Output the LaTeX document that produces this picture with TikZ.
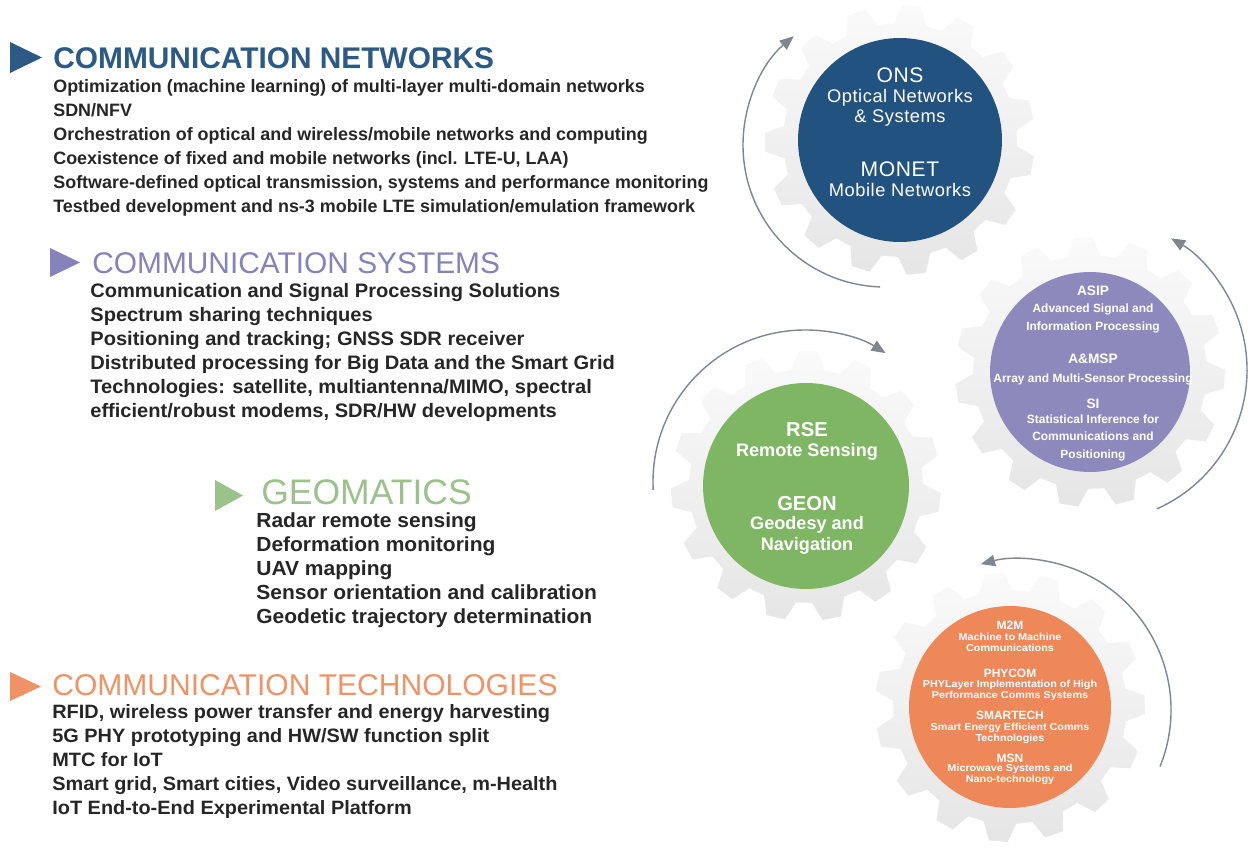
\documentclass[tikz,border=0pt]{standalone}
\usepackage{fontspec}
\setmainfont{Liberation Sans}
\newfontfamily\bodyfont{Liberation Sans}
\newfontfamily\broadfont[FakeStretch=1.03]{Liberation Sans}
\newfontfamily\widefont[FakeStretch=1.08]{Liberation Sans}
\newfontfamily\spacedfont[LetterSpace=3]{Liberation Sans}
\usetikzlibrary{arrows.meta}

\definecolor{netblue}{HTML}{2C5A85}
\definecolor{sysviolet}{HTML}{8682BA}
\definecolor{geogreen}{HTML}{9CC28B}
\definecolor{techorange}{HTML}{EF9367}
\definecolor{discblue}{HTML}{22527F}
\definecolor{discviolet}{HTML}{8D89BC}
\definecolor{discgreen}{HTML}{7EB663}
\definecolor{discorange}{HTML}{EE8858}
\definecolor{inkgray}{HTML}{262626}
\definecolor{arrowgray}{HTML}{7F868E}

\tikzset{
  heading/.style={anchor=base west, inner sep=0pt},
  % multi-line nodes are anchored on the baseline of their last line
  itemlist/.style={anchor=base west, inner sep=0pt, align=left, text=inkgray},
  disc/.style={circle, inner sep=0pt},
  disctitle/.style={anchor=base, inner sep=0pt, text=white},
  discsub/.style={anchor=base, inner sep=0pt, align=center, text=white},
  gearbody/.style={top color=black!2, bottom color=black!10},
  turn/.style={draw=arrowgray, line width=0.8pt, -{Triangle[length=8pt,width=6.5pt]}}
}

% cogwheel: centre x, centre y, rotation
\newcommand{\cogwheel}[3]{%
  \begin{scope}[shift={(#1,#2)}, rotate=#3]
    \shade[gearbody] (-5:117) foreach \k in {0,...,14}{
      -- (\k*24+3:117) -- (\k*24+7:135) -- (\k*24+15:135) -- (\k*24+19:117)} -- cycle;
  \end{scope}}

\begin{document}
\begin{tikzpicture}[x=0.02cm, y=-0.02cm]
  \useasboundingbox[fill=white] (0,0) rectangle (1254,858);

  % left column
  \fill[netblue] (10,42) -- (42,57.5) -- (10,73) -- cycle;
  \node[heading, text=netblue, font=\bfseries\fontsize{17}{20}\selectfont] (cn-head) at (53,69) {COMMUNICATION NETWORKS};
  \node[itemlist, font=\bodyfont\bfseries\fontsize{10.2}{13.66}\selectfont] (cn-list) at (53,213) {%
    Optimization (machine learning) of multi-layer multi-domain networks\\
    SDN/NFV\\
    Orchestration of optical and wireless/mobile networks and computing\\
    Coexistence of fixed and mobile networks (incl. LTE-U, LAA)\\
    Software-defined optical transmission, systems and performance monitoring\\
    Testbed development and ns-3 mobile LTE simulation/emulation framework};

  \fill[sysviolet] (50,248) -- (80,262.5) -- (50,277) -- cycle;
  \node[heading, text=sysviolet, font=\fontsize{17}{20}\selectfont] (cs-head) at (92,274) {COMMUNICATION SYSTEMS};
  \node[itemlist, font=\broadfont\bfseries\fontsize{11.1}{13.66}\selectfont] (cs-list) at (90,417) {%
    Communication and Signal Processing Solutions\\
    Spectrum sharing techniques\\
    Positioning and tracking; GNSS SDR receiver\\
    Distributed processing for Big Data and the Smart Grid\\
    Technologies: satellite, multiantenna/MIMO, spectral\\
    efficient/robust modems, SDR/HW developments};

  \fill[geogreen] (215,480) -- (243,495.5) -- (215,511) -- cycle;
  \node[heading, text=geogreen, font=\fontsize{20.2}{22}\selectfont] (geo-head) at (261,504) {GEOMATICS};
  \node[itemlist, font=\broadfont\bfseries\fontsize{11.6}{13.66}\selectfont] (geo-list) at (256,623) {%
    Radar remote sensing\\
    Deformation monitoring\\
    UAV mapping\\
    Sensor orientation and calibration\\
    Geodetic trajectory determination};

  \fill[techorange] (10,672) -- (41,686.5) -- (10,701) -- cycle;
  \node[heading, text=techorange, font=\fontsize{17.1}{20}\selectfont] (ct-head) at (52,695) {COMMUNICATION TECHNOLOGIES};
  \node[itemlist, font=\broadfont\bfseries\fontsize{11}{13.66}\selectfont] (ct-list) at (52,814) {%
    RFID, wireless power transfer and energy harvesting\\
    5G PHY prototyping and HW/SW function split\\
    MTC for IoT\\
    Smart grid, Smart cities, Video surveillance, m-Health\\
    IoT End-to-End Experimental Platform};

  % gears behind the discs
  \cogwheel{900}{140}{0}
  \cogwheel{1090}{372}{8}
  \cogwheel{806}{486}{4}
  \cogwheel{1010}{707}{12}

  % discs
  \node[disc, fill=discblue, minimum size=4.08cm] (ons) at (900,140) {};
  \node[disc, fill=discviolet, minimum size=4.0cm] (asip) at (1090,372) {};
  \node[disc, fill=discgreen, minimum size=4.12cm] (rse) at (806,486) {};
  \node[disc, fill=discorange, minimum size=4.04cm] (m2m) at (1010,707) {};

  % rotation arrows
  \coordinate (ons-hub) at (885,145);
  \coordinate (asip-hub) at (1095,370);
  \coordinate (rse-hub) at (805,482);
  \coordinate (m2m-hub) at (1020,710);
  \draw[turn] (ons-hub) ++(92:142) arc (92:230:142);
  \draw[turn] (asip-hub) ++(66:152) arc (66:-60:152);
  \draw[turn] (rse-hub) ++(177:152) arc (177:302:152);
  \draw[turn] (m2m-hub) ++(22:151) arc (22:-105:151);

  % ONS disc
  \node[disctitle, font=\spacedfont\fontsize{12}{14}\selectfont] (ons-t1) at (900,83) {ONS};
  \node[discsub, font=\spacedfont\fontsize{10.4}{11.4}\selectfont] (ons-s1) at (900,123) {Optical Networks\\\& Systems};
  \node[disctitle, font=\spacedfont\fontsize{12}{14}\selectfont] (ons-t2) at (900,177) {MONET};
  \node[discsub, font=\spacedfont\fontsize{10.4}{11.4}\selectfont] (ons-s2) at (900,197) {Mobile Networks};

  % ASIP disc
  \node[disctitle, font=\bfseries\fontsize{7.8}{9}\selectfont] (asip-t1) at (1093,296) {ASIP};
  \node[discsub, font=\bfseries\fontsize{6.8}{9.7}\selectfont] (asip-s1) at (1093,330) {Advanced Signal and\\Information Processing};
  \node[disctitle, font=\bfseries\fontsize{7.8}{9}\selectfont] (asip-t2) at (1093,363) {A\&MSP};
  \node[discsub, font=\bfseries\fontsize{6.8}{9.7}\selectfont] (asip-s2) at (1093,382) {Array and Multi-Sensor Processing};
  \node[disctitle, font=\bfseries\fontsize{7.8}{9}\selectfont] (asip-t3) at (1093,408) {SI};
  \node[discsub, font=\bfseries\fontsize{6.8}{9.7}\selectfont] (asip-s3) at (1093,458) {Statistical Inference for\\Communications and\\Positioning};

  % RSE disc
  \node[disctitle, font=\bfseries\fontsize{11.5}{13}\selectfont] (rse-t1) at (807,436) {RSE};
  \node[discsub, font=\bfseries\fontsize{10.3}{11.4}\selectfont] (rse-s1) at (807,456) {Remote Sensing};
  \node[disctitle, font=\bfseries\fontsize{11.5}{13}\selectfont] (rse-t2) at (807,510) {GEON};
  \node[discsub, font=\bfseries\fontsize{10.3}{11.4}\selectfont] (rse-s2) at (807,550) {Geodesy and\\Navigation};

  % M2M disc
  \node[disctitle, font=\bfseries\fontsize{6.8}{8}\selectfont] (m2m-t1) at (1010,629) {M2M};
  \node[discsub, font=\widefont\bfseries\fontsize{5.7}{5.7}\selectfont] (m2m-s1) at (1010,651) {Machine to Machine\\Communications};
  \node[disctitle, font=\bfseries\fontsize{6.8}{8}\selectfont] (m2m-t2) at (1010,677) {PHYCOM};
  \node[discsub, font=\widefont\bfseries\fontsize{5.7}{5.7}\selectfont] (m2m-s2) at (1010,698) {PHYLayer Implementation of High\\Performance Comms Systems};
  \node[disctitle, font=\bfseries\fontsize{6.8}{8}\selectfont] (m2m-t3) at (1010,719) {SMARTECH};
  \node[discsub, font=\widefont\bfseries\fontsize{5.7}{5.7}\selectfont] (m2m-s3) at (1010,741) {Smart Energy Efficient Comms\\Technologies};
  \node[disctitle, font=\bfseries\fontsize{6.8}{8}\selectfont] (m2m-t4) at (1010,762) {MSN};
  \node[discsub, font=\widefont\bfseries\fontsize{5.7}{5.7}\selectfont] (m2m-s4) at (1010,782) {Microwave Systems and\\Nano-technology};
\end{tikzpicture}
\end{document}
